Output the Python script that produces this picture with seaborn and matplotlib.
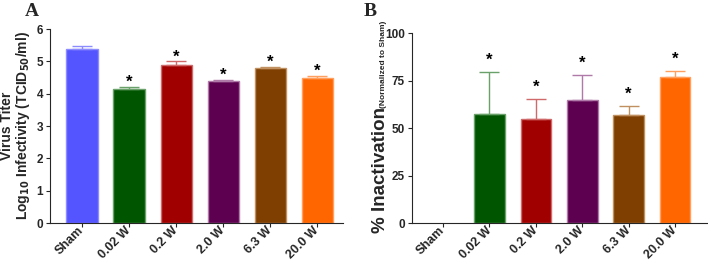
import matplotlib
matplotlib.use("Agg")
import matplotlib.pyplot as plt
import seaborn as sns
import pandas as pd

categories = ["Sham", "0.02 W", "0.2 W", "2.0 W", "6.3 W", "20.0 W"]
titer = [5.37, 4.15, 4.88, 4.39, 4.78, 4.48]
titer_err = [0.11, 0.07, 0.12, 0.04, 0.06, 0.07]
titer_sig = [False, True, True, True, True, True]
inact = [0.0, 57.5, 55.0, 65.0, 57.0, 77.0]
inact_err = [0.0, 22.0, 10.5, 13.0, 4.5, 3.0]
inact_sig = [False, True, True, True, True, True]
bar_colors = ["#5555ff", "#005500", "#a00000", "#5c004f", "#7f3f00", "#ff6600"]
edge_colors = ["#8c8cff", "#6aa06a", "#d06a6a", "#b07aa8", "#c09060", "#ffa060"]

sns.set_style("ticks")
plt.rcParams['font.family'] = ['Liberation Sans', 'DejaVu Sans']

fig = plt.figure(figsize=(7.08, 2.63), dpi=100)
axA = fig.add_axes([50/708, 1-223/263, (343-50)/708, (223-29)/263])
axB = fig.add_axes([412/708, 1-223/263, (707-412)/708, (223-33)/263])

def draw(ax, vals, errs, sig, ylim, yticks, star_off):
    df = pd.DataFrame({"cat": categories, "val": vals})
    sns.barplot(data=df, x="cat", y="val", hue="cat", palette=bar_colors,
                legend=False, width=0.66, ax=ax, saturation=1)
    for i, p in enumerate(ax.patches):
        if vals[i] > 0:
            p.set_edgecolor(edge_colors[i])
            p.set_linewidth(1.0)
        else:
            p.set_visible(False)
    for i in range(len(categories)):
        if vals[i] > 0:
            ax.errorbar(i, vals[i], yerr=[[0], [errs[i]]], fmt='none',
                        ecolor=edge_colors[i], elinewidth=1.0, capsize=7.5,
                        capthick=1.0)
        if sig[i]:
            ax.text(i, vals[i] + errs[i] + star_off, "*", ha='center',
                    va='center', fontsize=12, fontweight='bold', color='black')
    ax.set_ylim(*ylim)
    ax.set_yticks(yticks)
    ax.set_xlabel("")
    ax.set_ylabel("")
    ax.set_xticks(range(len(categories)))
    ax.set_xticklabels(categories, rotation=45, ha='right', va='center',
                       rotation_mode='anchor', fontsize=9, fontweight='bold')
    for lab in ax.get_yticklabels():
        lab.set_fontweight('bold')
        lab.set_fontsize(8.5)
    sns.despine(ax=ax)
    ax.spines['left'].set_linewidth(0.8)
    ax.spines['bottom'].set_linewidth(0.8)
    ax.tick_params(length=3, width=0.8, pad=2)
    ax.tick_params(axis='x', pad=1)

draw(axA, titer, titer_err, titer_sig, (0, 6), [0, 1, 2, 3, 4, 5, 6], 0.13)
axA.set_xlim(-0.68, 5.55)
draw(axB, inact, inact_err, inact_sig, (0, 100), [0, 25, 50, 75, 100], 6)
axB.set_xlim(-0.67, 5.69)

axA.set_ylabel("Virus Titer\nLog$_{\\mathbf{10}}$ Infectivity (TCID$_{\\mathbf{50}}$/ml)",
               fontsize=10, fontweight='bold', labelpad=3, linespacing=1.05)

fig.text(385/708, 1-233/263, "% Inactivation", rotation=90, ha='left', va='baseline',
         rotation_mode='anchor', fontsize=13.5, fontweight='bold')
fig.text(385/708, 1-108/263, "(Normalized to Sham)", rotation=90, ha='left', va='baseline',
         rotation_mode='anchor', fontsize=6, fontweight='bold')

fig.text(25/708, 1-12/263, "A", fontsize=14, fontweight='bold',
         family=['Liberation Serif'], ha='left', va='center')
fig.text(364/708, 1-12/263, "B", fontsize=14, fontweight='bold',
         family=['Liberation Serif'], ha='left', va='center')

fig.savefig("out.png", dpi=100)
